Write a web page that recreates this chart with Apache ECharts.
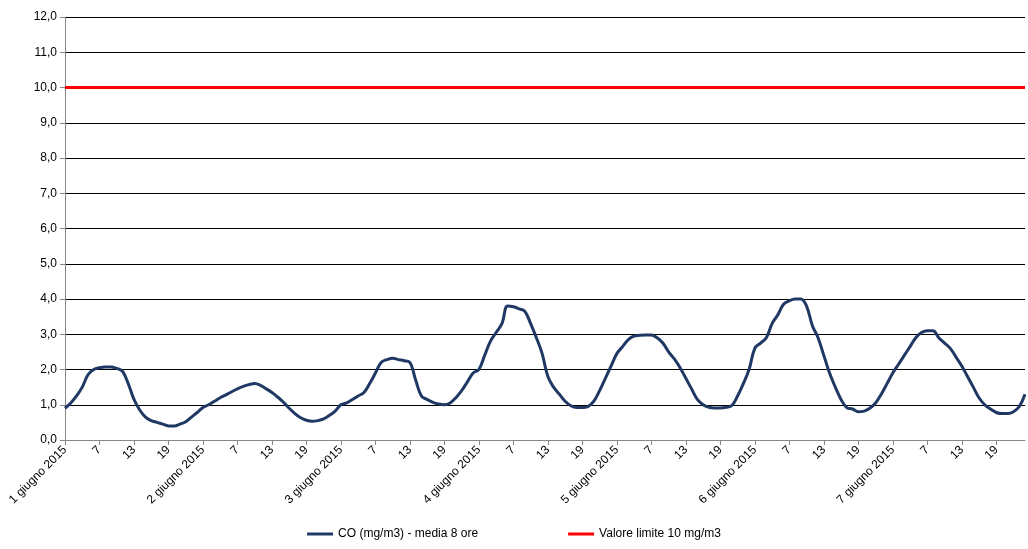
<!DOCTYPE html>
<html>
<head>
<meta charset="utf-8">
<script src="https://cdn.jsdelivr.net/npm/echarts@6/dist/echarts.min.js"></script>
<style>html,body{margin:0;padding:0;background:#fff}#c{width:1028px;height:549px}</style>
</head>
<body>
<div id="c"></div>
<script>
const days = ['1 giugno 2015', '2 giugno 2015', '3 giugno 2015', '4 giugno 2015', '5 giugno 2015', '6 giugno 2015', '7 giugno 2015'];
const coDay1 = [0.9, 1.05, 1.25, 1.5, 1.85, 2.0, 2.05, 2.07, 2.07, 2.03, 1.95, 1.6, 1.15, 0.85, 0.65, 0.55, 0.5, 0.45, 0.4, 0.4, 0.45, 0.52, 0.65, 0.78];
const coDay2 = [0.92, 1.0, 1.1, 1.2, 1.28, 1.37, 1.45, 1.52, 1.57, 1.6, 1.55, 1.45, 1.35, 1.22, 1.07, 0.9, 0.75, 0.63, 0.56, 0.53, 0.55, 0.6, 0.7, 0.82];
const coDay3 = [1.0, 1.05, 1.15, 1.25, 1.35, 1.6, 1.9, 2.2, 2.28, 2.32, 2.28, 2.25, 2.2, 1.7, 1.25, 1.15, 1.07, 1.02, 1.0, 1.05, 1.2, 1.4, 1.65, 1.9];
const coDay4 = [2.0, 2.4, 2.8, 3.05, 3.3, 3.8, 3.78, 3.72, 3.65, 3.3, 2.9, 2.45, 1.8, 1.5, 1.3, 1.1, 0.97, 0.92, 0.92, 0.95, 1.1, 1.4, 1.75, 2.1];
const coDay5 = [2.45, 2.65, 2.85, 2.95, 2.97, 2.98, 2.98, 2.9, 2.75, 2.5, 2.3, 2.05, 1.75, 1.45, 1.15, 1.0, 0.93, 0.91, 0.91, 0.93, 0.98, 1.25, 1.6, 2.0];
const coDay6 = [2.6, 2.75, 2.9, 3.3, 3.55, 3.85, 3.95, 4.0, 4.0, 3.8, 3.25, 2.9, 2.4, 1.9, 1.5, 1.15, 0.92, 0.88, 0.8, 0.82, 0.9, 1.05, 1.3, 1.6];
const coDay7 = [1.9, 2.15, 2.4, 2.65, 2.9, 3.05, 3.1, 3.1, 2.9, 2.75, 2.6, 2.35, 2.1, 1.8, 1.5, 1.2, 1.0, 0.88, 0.78, 0.75, 0.75, 0.8, 0.95, 1.3];
const limitValue = 10;

const coValues = [].concat(coDay1, coDay2, coDay3, coDay4, coDay5, coDay6, coDay7);
const categories = [];
days.forEach(d => {
    for (let h = 1; h <= 24; h++) categories.push(h === 1 ? d : String(h));
});
const limitValues = categories.map(() => limitValue);

const chart = echarts.init(document.getElementById('c'));
chart.setOption({
    animation: false,
    grid: { left: 65, right: 3, top: 17, bottom: 109, containLabel: false },
    legend: {
        bottom: 4,
        itemGap: 90,
        icon: 'rect',
        itemWidth: 26,
        itemHeight: 3,
        textStyle: { fontFamily: 'Liberation Sans', fontSize: 12, color: '#000' },
        data: ['CO (mg/m3) - media 8 ore', 'Valore limite 10 mg/m3']
    },
    xAxis: {
        type: 'category',
        boundaryGap: false,
        data: categories,
        axisLine: { lineStyle: { color: '#888' } },
        axisTick: { interval: 5, lineStyle: { color: '#888' } },
        axisLabel: { interval: 5, rotate: 45, fontFamily: 'Liberation Sans', fontSize: 12, color: '#000' }
    },
    yAxis: {
        type: 'value',
        min: 0, max: 12, interval: 1,
        axisLine: { show: true, lineStyle: { color: '#888' } },
        axisTick: { show: true, lineStyle: { color: '#888' } },
        splitLine: { lineStyle: { color: '#000', width: 1 } },
        axisLabel: {
            fontFamily: 'Liberation Sans', fontSize: 12, color: '#000',
            formatter: v => v.toFixed(1).replace('.', ',')
        }
    },
    series: [
        {
            name: 'CO (mg/m3) - media 8 ore',
            type: 'line',
            smooth: 0.4,
            showSymbol: false,
            data: coValues,
            lineStyle: { color: '#1F3864', width: 3 },
            itemStyle: { color: '#1F3864' }
        },
        {
            name: 'Valore limite 10 mg/m3',
            type: 'line',
            showSymbol: false,
            data: limitValues,
            lineStyle: { color: '#FF0000', width: 3 },
            itemStyle: { color: '#FF0000' }
        }
    ]
});
</script>
</body>
</html>
